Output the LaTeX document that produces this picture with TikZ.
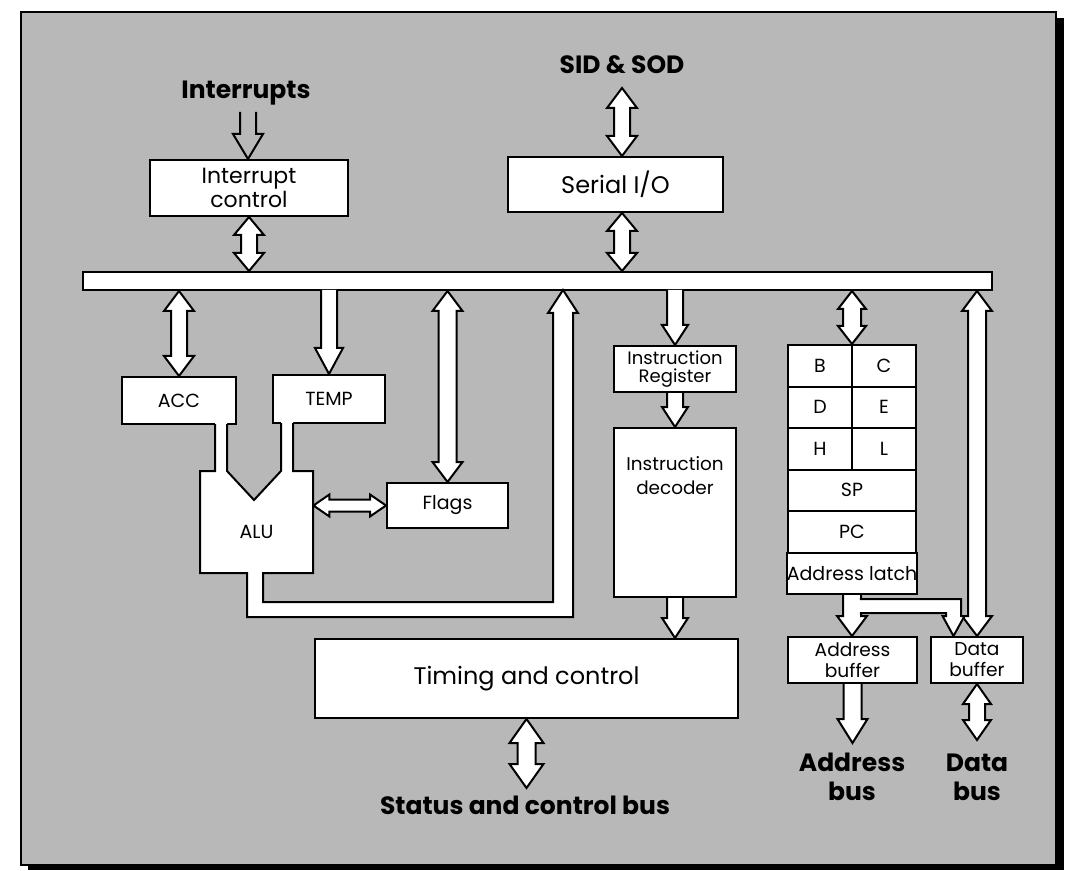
\documentclass[tikz,border=0pt]{standalone}
\usepackage{fontspec}
\setmainfont{Poppins}
\usetikzlibrary{calc, backgrounds}
\definecolor{panelgray}{gray}{0.72}
\pgfdeclarelayer{conn}
\pgfsetlayers{background,conn,main}

% vertical double block arrow: top, bottom, stem half width, head half width, head length
\newcommand{\vdbl}[5]{%
  \draw[blockarrow] let \p1=(#1), \p2=(#2) in
    (\x1,\y1) -- (\x1+#4,\y1-#5) -- (\x1+#3,\y1-#5) -- (\x1+#3,\y2+#5)
    -- (\x1+#4,\y2+#5) -- (\x1,\y2) -- (\x1-#4,\y2+#5) -- (\x1-#3,\y2+#5)
    -- (\x1-#3,\y1-#5) -- (\x1-#4,\y1-#5) -- cycle;}
% horizontal double block arrow: left, right, stem half width, head half width, head length
\newcommand{\hdbl}[5]{%
  \draw[blockarrow] let \p1=(#1), \p2=(#2) in
    (\x1,\y1) -- (\x1+#5,\y1+#4) -- (\x1+#5,\y1+#3) -- (\x2-#5,\y1+#3)
    -- (\x2-#5,\y1+#4) -- (\x2,\y1) -- (\x2-#5,\y1-#4) -- (\x2-#5,\y1-#3)
    -- (\x1+#5,\y1-#3) -- (\x1+#5,\y1-#4) -- cycle;}
% single down block arrow, stem open at the top
\newcommand{\sdown}[5]{%
  \draw[blockarrow] let \p1=(#1), \p2=(#2) in
    (\x1-#3,\y1+0.6pt) -- (\x1-#3,\y2+#5) -- (\x1-#4,\y2+#5) -- (\x1,\y2)
    -- (\x1+#4,\y2+#5) -- (\x1+#3,\y2+#5) -- (\x1+#3,\y1+0.6pt);}

\begin{document}
\begin{tikzpicture}[x=0.5pt, y=-0.5pt,
    box/.style={draw, fill=white, line width=1pt, inner sep=0pt, align=center},
    reg/.style={box, minimum height=20.75pt, font=\fontsize{9.5}{10}\selectfont},
    lbl/.style={font=\fontsize{12.5}{14.5}\selectfont\bfseries, align=center, inner sep=0pt},
    blockarrow/.style={draw, fill=white, line width=1pt, line join=miter},
    openarrow/.style={draw, line width=1pt, line join=miter}]
\useasboundingbox (0,0) rectangle (1075,871);

% panel with shadow
\begin{scope}[on background layer]
  \fill[black] (28,18) rectangle (1064,870);
  \filldraw[fill=panelgray, draw=black, line width=0.8pt] (21,12) rectangle (1056,865);
\end{scope}

% outside labels
\node[lbl] (irqlbl) at (246,93) {Interrupts};
\node[lbl] (sidlbl) at (622,65) {SID \& SOD};
\node[lbl] (statlbl) at (525,805) {Status and control bus};
\node[lbl] (ablbl) at (852,777) {Address\\bus};
\node[lbl] (dblbl) at (977,777) {Data\\bus};
\coordinate (irqin) at (248,112);
\coordinate (sidin) at (622,88);
\coordinate (statout) at (528,788);
\coordinate (abusout) at (852.5,743);
\coordinate (dbusout) at (977,740);

% blocks
\node[box, minimum width=454.5pt, minimum height=9pt] (bus) at (537.5,281) {};
\node[box, minimum width=99pt, minimum height=28pt, font=\fontsize{11}{10}\selectfont] (intctl) at (249,188) {Interrupt\\control};
\node[box, minimum width=107.5pt, minimum height=27.5pt, font=\fontsize{12}{12}\selectfont] (serial) at (615.5,184.5) {Serial I/O};
\node[box, minimum width=57pt, minimum height=23.5pt, font=\fontsize{9.5}{10}\selectfont] (acc) at (179,400.5) {ACC};
\node[box, minimum width=56pt, minimum height=24pt, font=\fontsize{9.5}{10}\selectfont] (temp) at (329,399) {TEMP};
\node[box, minimum width=60.5pt, minimum height=22.5pt, font=\fontsize{9.5}{10}\selectfont] (flags) at (447.5,505.5) {Flags};
\node[box, minimum width=61pt, minimum height=23pt, font=\fontsize{9}{9}\selectfont] (ir) at (675,369) {Instruction\\Register};
\node[box, minimum width=61pt, minimum height=84.5pt,
  label={[anchor=north, yshift=-11pt, align=center, font=\fontsize{9.2}{12}\selectfont]north:{Instruction\\decoder}}] (idec) at (675,512.5) {};
\node[box, minimum width=211.5pt, minimum height=39.5pt, font=\fontsize{12}{12}\selectfont] (timing) at (526.5,678.5) {Timing and control};
\node[box, minimum width=64.5pt, minimum height=23pt, font=\fontsize{9.3}{10.5}\selectfont] (abuf) at (852.5,660) {Address\\buffer};
\node[box, minimum width=46pt, minimum height=23pt, font=\fontsize{9.3}{10.5}\selectfont] (dbuf) at (977,660) {Data\\buffer};

% register file
\foreach \a/\b [count=\i from 0] in {B/C, D/E, H/L} {
  \node[reg, minimum width=32pt] (\a) at (820, 365.75+41.5*\i) {\a};
  \node[reg, minimum width=32pt] (\b) at (884, 365.75+41.5*\i) {\b};
}
\foreach \n/\t [count=\i from 3] in {sp/SP, pc/PC, latch/Address latch}
  \node[reg, minimum width=64pt] (\n) at (852, 365.75+41.5*\i) {\t};

% ALU with its inputs and the loop back to the bus
\fill[white] (215,422) -- (227,422) -- (227,471) -- (254,500) -- (281,471) -- (281,421)
  -- (293,421) -- (293,471) -- (313,471) -- (313,573) -- (263,573) -- (263,602)
  -- (553,602) -- (553,313) -- (548,313) -- (563,290) -- (578,313) -- (573,313)
  -- (573,617) -- (247,617) -- (247,573) -- (200,573) -- (200,471) -- (215,471) -- cycle;
\draw[openarrow] (227,424) -- (227,471) -- (254,500) -- (281,471) -- (281,423);
\draw[openarrow] (293,423) -- (293,471) -- (313,471) -- (313,573) -- (263,573) -- (263,602)
  -- (553,602) -- (553,313) -- (548,313) -- (563,290) -- (578,313) -- (573,313)
  -- (573,617) -- (247,617) -- (247,573) -- (200,573) -- (200,471) -- (215,471) -- (215,424);
\node[minimum width=56.5pt, minimum height=20pt, inner sep=0pt, font=\fontsize{9.5}{10}\selectfont] (alu) at (256.5,532) {ALU};

% arrows that leave the bus
\sdown{temp.north |- bus.south}{temp.north}{4pt}{7pt}{13pt}
\sdown{ir.north |- bus.south}{ir.north}{4pt}{6.5pt}{10pt}

% arrows behind the blocks
\begin{pgfonlayer}{conn}
  \draw[openarrow] let \p1=(irqin), \p2=(intctl.north) in
    (\x1-4pt,\y1) -- (\x1-4pt,\y2+12.5pt) -- (\x1-7.5pt,\y2+12.5pt) -- (\x1,\y2)
    -- (\x1+7.5pt,\y2+12.5pt) -- (\x1+4pt,\y2+12.5pt) -- (\x1+4pt,\y1);
  \vdbl{intctl.south}{intctl.south |- bus.north}{4pt}{7.5pt}{9pt}
  \vdbl{sidin}{sidin |- serial.north}{4pt}{7.5pt}{10pt}
  \vdbl{sidin |- serial.south}{sidin |- bus.north}{4pt}{7.5pt}{9pt}
  \vdbl{acc.north |- bus.south}{acc.north}{4pt}{7.5pt}{10pt}
  \vdbl{flags.north |- bus.south}{flags.north}{4.5pt}{7.5pt}{10pt}
  \hdbl{alu.east |- flags.west}{flags.west}{3pt}{5.5pt}{8pt}
  \sdown{ir.south}{idec.north}{4pt}{6.5pt}{10pt}
  \sdown{idec.south}{timing.north -| idec.south}{4pt}{6.5pt}{10pt}
  \vdbl{timing.south}{statout}{4.5pt}{8.5pt}{12pt}
  \vdbl{sp.north |- bus.south}{B.north -| sp.north}{4.5pt}{7pt}{9pt}
  \vdbl{dbuf.north |- bus.south}{dbuf.north}{4.5pt}{7.5pt}{10pt}
  \vdbl{dbuf.south}{dbusout}{4pt}{7pt}{10pt}
  \sdown{abuf.south}{abusout}{4.5pt}{7.5pt}{12pt}
  \sdown{latch.south}{abuf.north}{4.5pt}{7.5pt}{10pt}
  % branch from the latch to the data buffer
  \draw[blockarrow] let \p1=(latch.south), \p2=($(dbuf.north)+(-23.5,0)$) in
    (\x1+3.9pt,\y1-2pt) -- (\x2+3.75pt,\y1-2pt) -- (\x2+3.75pt,\y2+10pt)
    -- (\x2+5.5pt,\y2+10pt) -- (\x2,\y2) -- (\x2-5.5pt,\y2+10pt) -- (\x2-3.75pt,\y2+10pt)
    -- (\x2-3.75pt,\y1-9pt) -- (\x1+3.9pt,\y1-9pt);
\end{pgfonlayer}
\end{tikzpicture}
\end{document}
